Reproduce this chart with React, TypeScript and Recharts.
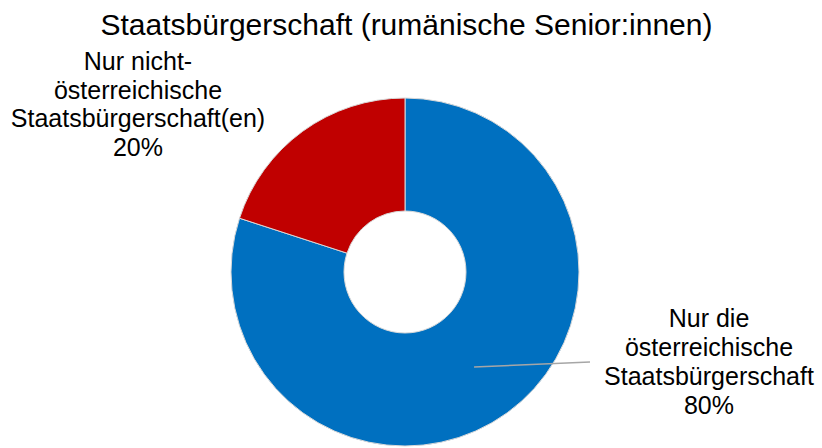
import React from "react";
import { PieChart, Pie, Cell } from "recharts";

const categories = [
  "Nur die österreichische Staatsbürgerschaft",
  "Nur nicht-österreichische Staatsbürgerschaft(en)",
];
const values = [80, 20];
const labelLines = [
  ["Nur die", "österreichische", "Staatsbürgerschaft"],
  ["Nur nicht-", "österreichische", "Staatsbürgerschaft(en)"],
];
const percentLabels = ["80%", "20%"];
const colors = ["#0070C0", "#C00000"];
const title = "Staatsbürgerschaft (rumänische Senior:innen)";

const data = categories.map((name, i) => ({ name, value: values[i] }));

const FONT = "'Liberation Sans', Arial, Helvetica, sans-serif";

// label layout relative to pie centre
const labelLayout = [
  { textDx: 304, firstBaselineDy: 55, lineGap: 29, leader: { dx: 185, dy: 90 } },
  { textDx: -267, firstBaselineDy: -202, lineGap: 28.7, leader: null },
];

const RADIAN = Math.PI / 180;

const renderLabel = (props: any) => {
  const { cx, cy, midAngle, innerRadius, outerRadius, index } = props;
  const lay = labelLayout[index];
  const lines = [...labelLines[index], percentLabels[index]];
  const tx = cx + lay.textDx;
  let leader = null;
  if (lay.leader) {
    const r = (innerRadius + outerRadius) / 2;
    const sx = cx + r * Math.cos(-midAngle * RADIAN);
    const sy = cy + r * Math.sin(-midAngle * RADIAN);
    leader = (
      <path
        d={`M${sx},${sy}L${cx + lay.leader.dx},${cy + lay.leader.dy}`}
        stroke="#a6a6a6"
        strokeWidth={1.5}
        fill="none"
      />
    );
  }
  return (
    <g key={`lbl-${index}`}>
      {leader}
      <text
        x={tx}
        y={cy + lay.firstBaselineDy}
        textAnchor="middle"
        fontFamily={FONT}
        fontSize={25}
        fill="#000"
      >
        {lines.map((l, i) => (
          <tspan key={i} x={tx} y={cy + lay.firstBaselineDy + i * lay.lineGap}>
            {l}
          </tspan>
        ))}
      </text>
    </g>
  );
};

export default function App() {
  return (
    <div
      style={{
        position: "absolute",
        left: 0,
        top: 0,
        width: 822,
        height: 448,
        background: "#fff",
        fontFamily: FONT,
      }}
    >
      <PieChart width={822} height={448} margin={{ top: 0, right: 0, bottom: 0, left: 0 }}>
        <Pie
          data={data}
          dataKey="value"
          nameKey="name"
          cx={405}
          cy={272}
          innerRadius={61}
          outerRadius={174}
          startAngle={90}
          endAngle={-270}
          stroke="#d9d9d9"
          strokeWidth={1}
          label={renderLabel}
          labelLine={false}
          isAnimationActive={false}
        >
          {data.map((d, i) => (
            <Cell key={d.name} fill={colors[i]} />
          ))}
        </Pie>
      </PieChart>
      <div
        style={{
          position: "absolute",
          left: 0,
          top: 10,
          width: 813,
          textAlign: "center",
          fontSize: 30,
          lineHeight: "30px",
          color: "#000",
          whiteSpace: "nowrap",
        }}
      >
        {title}
      </div>
    </div>
  );
}
